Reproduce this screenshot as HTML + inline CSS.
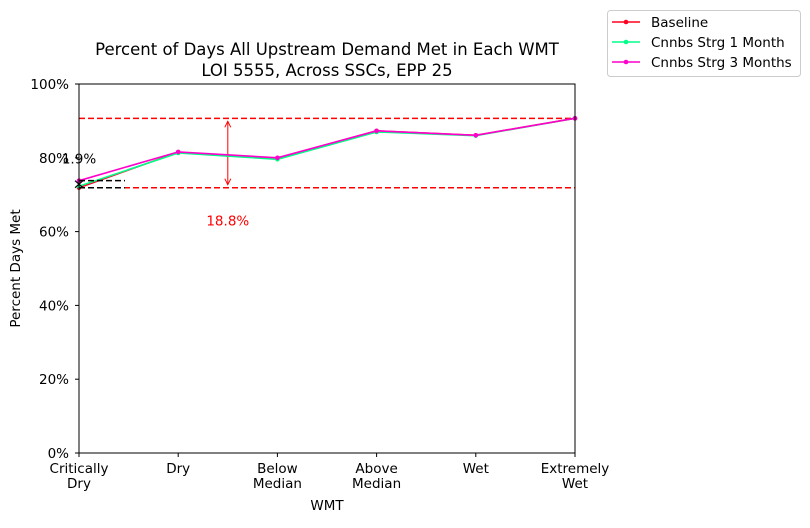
<!DOCTYPE html>
<html><head><meta charset="utf-8"><style>
body{margin:0;background:#fff;}
svg text{font-family:"DejaVu Sans","Liberation Sans",sans-serif;}
</style></head><body>
<svg id="chart" width="810" height="523" xmlns="http://www.w3.org/2000/svg">
<g id="plot"></g>
</svg>
<script>
const categories = [["Critically","Dry"],["Dry"],["Below","Median"],["Above","Median"],["Wet"],["Extremely","Wet"]];
const baseline = [71.9, 81.5, 79.9, 87.3, 86.1, 90.7];
const strg1 = [72.3, 81.3, 79.6, 87.0, 86.0, 90.7];
const strg3 = [73.8, 81.6, 80.0, 87.3, 86.1, 90.7];
const yTicks = [0, 20, 40, 60, 80, 100];
const seriesNames = ["Baseline", "Cnnbs Strg 1 Month", "Cnnbs Strg 3 Months"];

const L=79,R=575,T=84,B=453;
const x=i=>L+(R-L)*i/(categories.length-1);
const y=v=>B-(B-T)*v/100;
const NS="http://www.w3.org/2000/svg";
const g=document.getElementById('plot');
function mk(tag,attrs,parent){const e=document.createElementNS(NS,tag);for(const k in attrs)e.setAttribute(k,attrs[k]);(parent||g).appendChild(e);return e;}
function txt(s,attrs){const e=mk('text',attrs);e.textContent=s;return e;}

let t=txt("Percent of Days All Upstream Demand Met in Each WMT",{x:327,y:55,'text-anchor':'middle','font-size':16.5});

t=txt("LOI 5555, Across SSCs, EPP 25",{x:327,y:76,'text-anchor':'middle','font-size':16.5});


yTicks.forEach(v=>{
  const l=mk('line',{x1:L-4,x2:L,y1:y(v),y2:y(v),stroke:'#000'});
  
  const tt=txt(v+"%",{x:L-10,y:y(v)+5,'text-anchor':'end','font-size':13.5});
  
});
categories.forEach((c,i)=>{
  const l=mk('line',{x1:x(i),x2:x(i),y1:B,y2:B+4,stroke:'#000'});
  
  c.forEach((s,j)=>{
    const tt=txt(s,{x:x(i),y:B+20+j*15,'text-anchor':'middle','font-size':13.5});
    
  });
});
t=txt("WMT",{x:327,y:510,'text-anchor':'middle','font-size':13.5});

t=txt("Percent Days Met",{x:0,y:0,'text-anchor':'middle','font-size':13.5,transform:`translate(20,${(T+B)/2}) rotate(-90)`});


const maxV=Math.max(...baseline),minV=Math.min(...baseline);
[maxV,minV].forEach(v=>{
  const l=mk('line',{x1:L,x2:R,y1:y(v),y2:y(v),stroke:'#f00','stroke-width':1.5,'stroke-dasharray':'6,3'});
  
});
const ax=x(1.5);
let a=mk('line',{x1:ax,x2:ax,y1:y(maxV)+3,y2:y(minV)-3,stroke:'#f00','stroke-width':1});

a=mk('path',{d:`M${ax-3} ${y(maxV)+9} L${ax} ${y(maxV)+3} L${ax+3} ${y(maxV)+9} M${ax-3} ${y(minV)-9} L${ax} ${y(minV)-3} L${ax+3} ${y(minV)-9}`,stroke:'#f00',fill:'none'});

t=txt((maxV-minV).toFixed(1)+"%",{x:ax,y:y(minV)+38,'text-anchor':'middle','font-size':13.5,fill:'#f00'});


const colors=['#ff0022','#00ff88','#ff00cc'];
[baseline,strg1,strg3].forEach((s,k)=>{
  const p=mk('polyline',{points:s.map((v,i)=>x(i)+','+y(v)).join(' '),fill:'none',stroke:colors[k],'stroke-width':1.6});
  
  s.forEach((v,i)=>{const c=mk('circle',{cx:x(i),cy:y(v),r:2.3,fill:colors[k]});
    });
});

const d0=strg3[0],d1=baseline[0];
[d0,d1].forEach(v=>{const l=mk('line',{x1:L,x2:L+46,y1:y(v),y2:y(v),stroke:'#000','stroke-width':1.5,'stroke-dasharray':'6,3'});
  });
a=mk('path',{d:`M${L-4} ${y(d0)} L${L+4} ${y(d1)} M${L+4} ${y(d0)} L${L-4} ${y(d1)}`,stroke:'#000','stroke-width':1.2});

t=txt((d0-d1).toFixed(1)+"%",{x:L,y:y(d0)-17,'text-anchor':'middle','font-size':13.5});


a=mk('rect',{x:L,y:T,width:R-L,height:B-T,fill:'none',stroke:'#000','stroke-width':1});


const lg=mk('g',{});

mk('rect',{x:607.5,y:10.5,width:193,height:66,rx:3,fill:'#fff',stroke:'#ccc'},lg);
seriesNames.forEach((n,k)=>{
  const yy=22+k*20;
  const e=mk('g',{},lg);
  
  mk('line',{x1:612,x2:640,y1:yy,y2:yy,stroke:colors[k],'stroke-width':1.6},e);
  mk('circle',{cx:626,cy:yy,r:2.3,fill:colors[k]},e);
  const tt=mk('text',{x:651,y:yy+5,'font-size':13.5},e);tt.textContent=n;
});
</script>
</body></html>
